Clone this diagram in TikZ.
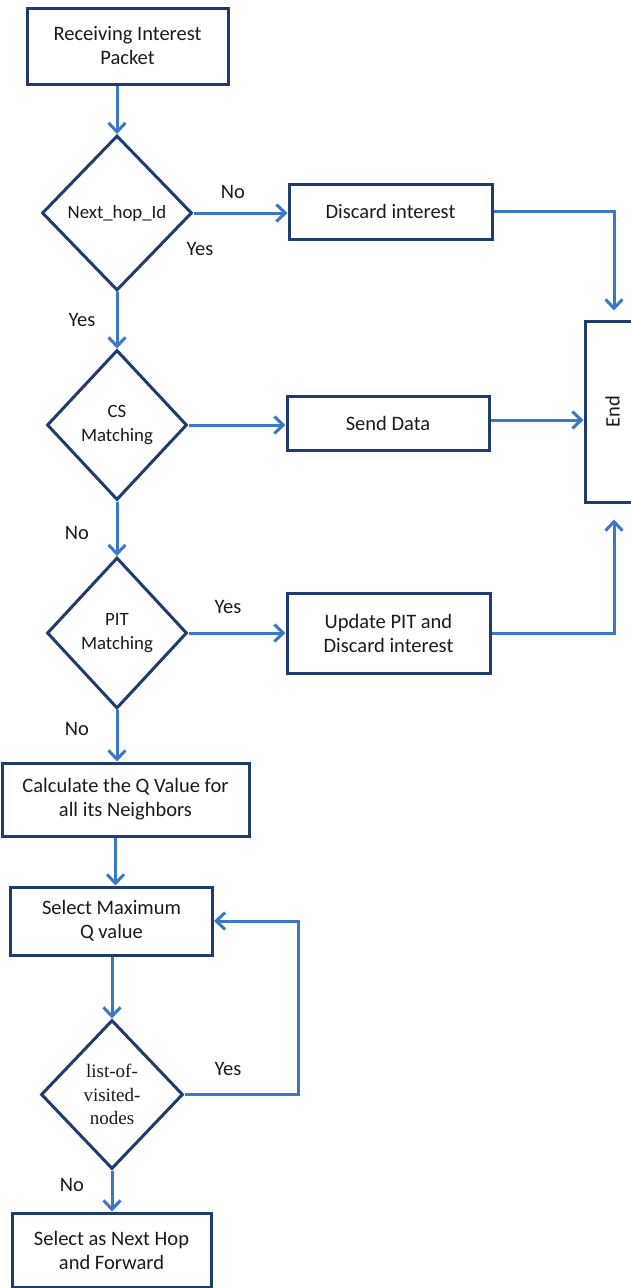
\documentclass[tikz,border=0pt]{standalone}
\usepackage{fontspec}
\setmainfont{Carlito}
\newfontfamily\serifface{Liberation Serif}
\usetikzlibrary{shapes.geometric,arrows.meta}
\definecolor{boxline}{HTML}{1F3C6E}
\definecolor{flow}{HTML}{3B78C3}
\definecolor{ink}{HTML}{1A1A1A}
\tikzset{
  procbox/.style={draw=boxline,line width=3pt,rectangle,align=center,text=ink,
    font=\fontsize{20.5}{24}\selectfont,inner sep=0pt},
  decision/.style={draw=boxline,line width=3pt,diamond,align=center,text=ink,
    font=\fontsize{18.8}{24}\selectfont,inner sep=0pt},
  arr/.style={draw=flow,line width=3pt,-{Straight Barb[length=9pt,width=17pt,line width=3pt]}},
  lbl/.style={text=ink,font=\fontsize{20.5}{24}\selectfont,inner sep=0pt}
}
\begin{document}
\begin{tikzpicture}[x=1pt,y=-1pt]
\useasboundingbox (0,0) rectangle (631,1288);
\clip (0,0) rectangle (631,1288);

% process boxes
\node[procbox,minimum width=201pt,minimum height=76pt] (recv) at (127.5,46) {Receiving Interest\\Packet};
\node[procbox,minimum width=203pt,minimum height=55pt] (discard) at (390.5,211.5) {Discard interest};
\node[procbox,minimum width=202pt,minimum height=54pt] (send) at (388,423) {Send Data};
\node[procbox,minimum width=203pt,minimum height=80pt] (update) at (388.5,633) {Update PIT and\\Discard interest};
\node[procbox,minimum width=55pt,minimum height=181pt] (end) at (612.5,411.5) {\rotatebox{90}{End}};
\node[procbox,minimum width=247pt,minimum height=73pt] (calc) at (125.5,799.5) {Calculate the Q Value for\\all its Neighbors};
\node[procbox,minimum width=202pt,minimum height=68pt] (sel) at (111.5,921) {Select Maximum\\Q value};
\node[procbox,minimum width=199pt,minimum height=74pt] (next) at (111.5,1250) {Select as Next Hop\\and Forward};

% decisions
\node[decision,minimum width=150pt,minimum height=155pt] (d1) at (117,213) {Next\_hop\_Id};
\node[decision,minimum width=140pt,minimum height=150pt] (d2) at (117,425) {CS\\Matching};
\node[decision,minimum width=140pt,minimum height=151pt] (d3) at (117,633) {PIT\\Matching};
\node[decision,minimum width=142pt,minimum height=149pt,
      font=\serifface\fontsize{19}{23.5}\selectfont] (d4) at (112,1094.5) {list-of-\\visited-\\nodes};

\coordinate (loop) at (298,0);

% connectors
\draw[arr] (recv.south -| d1.north) -- (d1.north);
\draw[arr] (d1.east) -- (d1.east -| discard.west);
\draw[arr,shorten >=9pt] (discard.east) -| ([xshift=1.5pt]end.north);
\draw[arr] (d1.south) -- (d2.north);
\draw[arr] (d2.east) -- (d2.east -| send.west);
\draw[arr] ([yshift=3pt]send.east) -- ([yshift=3pt]send.east -| end.west);
\draw[arr] (d2.south) -- (d3.north);
\draw[arr] (d3.east) -- (d3.east -| update.west);
\draw[arr,shorten >=16pt] (update.east) -| ([xshift=1.5pt]end.south);
\draw[arr] (d3.south) -- (d3.south |- calc.north);
\draw[arr] ([xshift=-10pt]calc.south) -- ([xshift=-10pt]calc.south |- sel.north);
\draw[arr] (sel.south -| d4.north) -- (d4.north);
\draw[arr] (d4.east) -- (d4.east -| loop) -- (loop |- sel.east) -- (sel.east);
\draw[arr] (d4.south) -- (d4.south |- next.north);

% branch labels
\node[lbl] (l1) at (233,192) {No};
\node[lbl] (l2) at (200,249) {Yes};
\node[lbl] (l3) at (82,320) {Yes};
\node[lbl] (l4) at (77,533) {No};
\node[lbl] (l5) at (228,607) {Yes};
\node[lbl] (l6) at (77,729) {No};
\node[lbl] (l7) at (228,1069) {Yes};
\node[lbl] (l8) at (72,1185) {No};
\end{tikzpicture}
\end{document}
